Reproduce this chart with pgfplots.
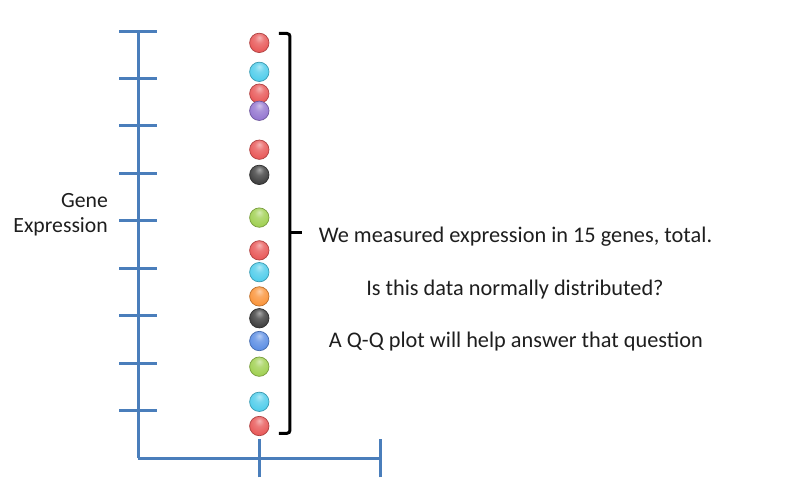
\documentclass[border=0pt]{standalone}
\usepackage{pgfplots}
\pgfplotsset{compat=1.18}
\usepackage{fontspec}
\setmainfont{Carlito}
\definecolor{axblue}{RGB}{74,126,187}
\definecolor{txt}{RGB}{30,30,30}
\definecolor{cRed}{RGB}{232,88,88}
\definecolor{cCyan}{RGB}{80,205,235}
\definecolor{cPurple}{RGB}{148,118,208}
\definecolor{cBlack}{RGB}{62,62,62}
\definecolor{cGreen}{RGB}{160,208,82}
\definecolor{cOrange}{RGB}{250,148,58}
\definecolor{cBlue}{RGB}{92,142,228}
\newcommand\defball[2]{%
 \pgfdeclareradialshading{shade#1}{\pgfpoint{0bp}{14bp}}{color(0bp)=(#2!45!white); color(12bp)=(#2!80!white); color(30bp)=(#2); color(38bp)=(#2!88!black); color(60bp)=(#2!88!black)}%
 \pgfdeclareplotmark{ball#1}{\pgfpathcircle{\pgfpointorigin}{\pgfplotmarksize}\pgfshadepath{shade#1}{0}\pgfsetlinewidth{0.7bp}\pgfsetstrokecolor{#2!75!black}\pgfusepathqstroke}%
}
\defball{R}{cRed}
\defball{C}{cCyan}
\defball{P}{cPurple}
\defball{K}{cBlack}
\defball{G}{cGreen}
\defball{O}{cOrange}
\defball{B}{cBlue}
\begin{document}
\begin{tikzpicture}
\begin{axis}[at={(0,0)}, anchor=south west, scale only axis,
  width=242bp, height=427.3bp,
  xmin=0, xmax=2, ymin=0, ymax=9,
  axis lines=left,
  axis line style={-, line width=3bp, color=axblue},
  xtick={1,2}, ytick={1,2,3,4,5,6,7,8,9},
  xticklabels={,,}, yticklabels={,,,,,,,,,},
  major tick length=38bp, tick align=center,
  tick style={line width=3bp, color=axblue},
  clip=false,
  every axis plot/.append style={only marks, mark size=9.7bp},
]
\addplot[mark=ballR] coordinates {(1,8.75) (1,7.68) (1,6.50) (1,4.38) (1,0.68)};
\addplot[mark=ballC] coordinates {(1,8.14) (1,3.92) (1,1.19)};
\addplot[mark=ballP] coordinates {(1,7.32)};
\addplot[mark=ballK] coordinates {(1,5.97) (1,2.95)};
\addplot[mark=ballG] coordinates {(1,5.07) (1,1.93)};
\addplot[mark=ballO] coordinates {(1,3.41)};
\addplot[mark=ballB] coordinates {(1,2.47)};
\node[anchor=east, font=\fontsize{21.8}{26}\selectfont, text=txt, inner sep=0pt] at (axis cs:-0.25,5.43) {Gene};
\node[anchor=east, font=\fontsize{21.8}{26}\selectfont, text=txt, inner sep=0pt] at (axis cs:-0.25,4.876) {Expression};
\node[font=\fontsize{22.4}{27}\selectfont, text=txt] at (axis cs:3.117,4.665) {We measured expression in 15 genes, total.};
\node[font=\fontsize{22.4}{27}\selectfont, text=txt] at (axis cs:3.113,3.548) {Is this data normally distributed?};
\node[font=\fontsize{22.4}{27}\selectfont, text=txt] at (axis cs:3.121,2.462) {A Q-Q plot will help answer that question};
\end{axis}
\begin{scope}[x=1bp, y=-1bp, shift={(-138.3bp,458.3bp)}]
\draw[line width=3bp, rounded corners=3bp] (279,33.5) -- (290,33.5) -- (290,433.3) -- (279,433.3);
\draw[line width=3bp] (290,233) -- (302,233);
\end{scope}
\pgfresetboundingbox
\useasboundingbox (-138.3bp,-39.7bp) rectangle (650.7bp,458.3bp);
\end{tikzpicture}
\end{document}
